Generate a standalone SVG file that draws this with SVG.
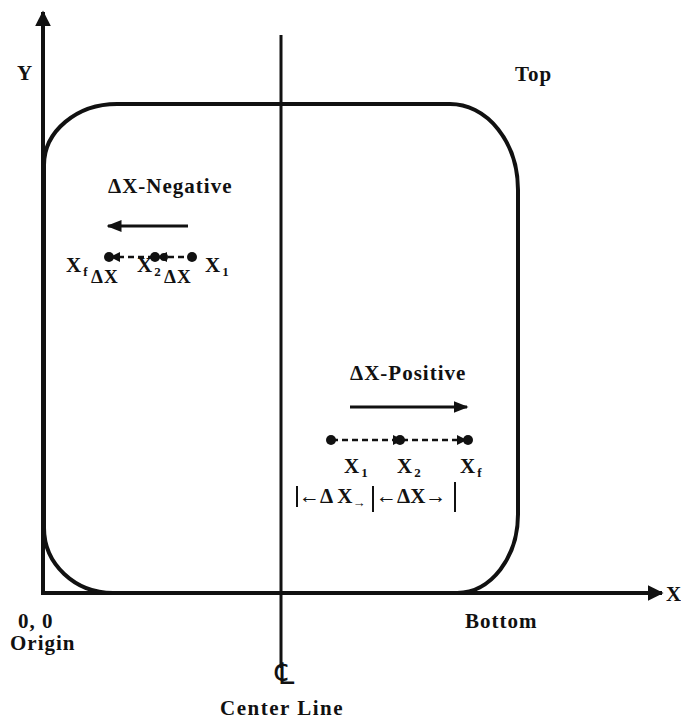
<svg xmlns="http://www.w3.org/2000/svg" width="681" height="721" viewBox="0 0 681 721">
<style>
text{font-family:"Liberation Serif","DejaVu Serif",serif;font-weight:bold;font-size:21px;fill:#111;letter-spacing:1px}
.sub{font-size:13px;letter-spacing:0}
.sm{font-size:19px}
.ln{stroke:#111;fill:none}
.ax{stroke-width:4}
.dash{stroke-width:2.5;stroke-dasharray:6,4}
</style>
<defs>
<marker id="ah" viewBox="0 0 10 10" refX="9" refY="5" markerWidth="4" markerHeight="4" orient="auto"><path d="M0,0 L10,5 L0,10 z" fill="#111"/></marker>
<marker id="sa" viewBox="0 0 10 10" refX="9" refY="5" markerWidth="5" markerHeight="5" orient="auto"><path d="M0,1 L10,5 L0,9 z" fill="#111"/></marker>
</defs>
<rect width="681" height="721" fill="#fff"/>
<g id="connectors">
<line id="y-axis" class="ln ax" x1="43" y1="593" x2="43" y2="12" marker-end="url(#ah)"/>
<line id="x-axis" class="ln ax" x1="41" y1="593" x2="662" y2="593" marker-end="url(#ah)"/>
<line id="centerline" class="ln" stroke-width="3" x1="281" y1="35" x2="281" y2="668"/>
<line class="ln" stroke-width="3" x1="188" y1="226" x2="108" y2="226" marker-end="url(#sa)"/>
<line class="ln" stroke-width="3" x1="350" y1="407" x2="467" y2="407" marker-end="url(#sa)"/>
</g>
<g id="part">
<path class="ln" stroke-width="4" d="M44,165 A73,61 0 0 1 117,104 L450,104 A68,86 0 0 1 518,190 L518,513 A61,79 0 0 1 457,593 L113,593 A69,65 0 0 1 44,528 Z"/>
</g>
<g id="negative">
<text x="108" y="193">ΔX-Negative</text>
<line class="ln dash" x1="118" y1="257" x2="190" y2="257"/>
<circle cx="109" cy="257" r="5" fill="#111"/>
<path d="M110,257 l10,-5 v10 z" fill="#111"/>
<circle cx="155" cy="257" r="5" fill="#111"/>
<path d="M157,257 l10,-5 v10 z" fill="#111"/>
<circle cx="164" cy="257" r="4" fill="#111"/>
<circle cx="192" cy="257" r="5" fill="#111"/>
<text x="66" y="272">X<tspan class="sub" dx="1" dy="4">f</tspan></text>
<text x="91" y="283" class="sm">ΔX</text>
<text x="137" y="272">X<tspan class="sub" dx="1" dy="4">2</tspan></text>
<text x="164" y="283" class="sm">ΔX</text>
<text x="205" y="272">X<tspan class="sub" dx="1" dy="4">1</tspan></text>
</g>
<g id="positive">
<text x="350" y="380">ΔX-Positive</text>
<line class="ln dash" x1="332" y1="440" x2="462" y2="440"/>
<circle cx="331" cy="440" r="5" fill="#111"/>
<path d="M403,440 l-10,-5 v10 z" fill="#111"/>
<circle cx="400" cy="440" r="5" fill="#111"/>
<path d="M467,440 l-10,-5 v10 z" fill="#111"/>
<circle cx="468" cy="440" r="5" fill="#111"/>
<text x="344" y="473">X<tspan class="sub" dx="1" dy="4">1</tspan></text>
<text x="397" y="473">X<tspan class="sub" dx="1" dy="4">2</tspan></text>
<text x="460" y="473">X<tspan class="sub" dx="1" dy="4">f</tspan></text>
<line class="ln" stroke-width="2" x1="297" y1="486" x2="297" y2="507"/>
<line class="ln" stroke-width="2" x1="373" y1="486" x2="373" y2="512"/>
<line class="ln" stroke-width="2" x1="455" y1="482" x2="455" y2="512"/>
<text x="299" y="503" style="letter-spacing:0">←Δ X<tspan class="sub" dy="4">→</tspan></text>
<text x="376" y="503" style="letter-spacing:0">←ΔX→</text>
</g>
<g id="labels">
<text x="17" y="80">Y</text>
<text x="515" y="81">Top</text>
<text x="666" y="601">X</text>
<text x="18" y="628">0, 0</text>
<text x="10" y="650">Origin</text>
<text x="465" y="628">Bottom</text>
<text x="285" y="684" text-anchor="middle" style="font-family:'DejaVu Serif','DejaVu Sans',serif;font-weight:normal;font-size:30px;letter-spacing:0">℄</text>
<text x="282" y="715" text-anchor="middle" style="letter-spacing:1.5px">Center Line</text>
</g>
</svg>
